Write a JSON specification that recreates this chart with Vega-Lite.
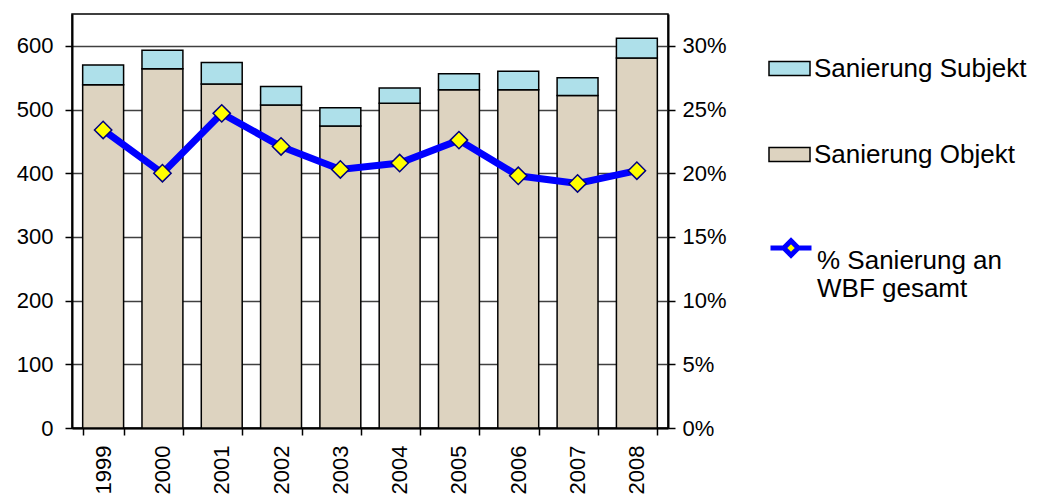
{
  "$schema": "https://vega.github.io/schema/vega-lite/v6.json",
  "autosize": {"type": "none"},
  "width": 596,
  "height": 414,
  "padding": {"left": 72, "top": 14, "right": 382, "bottom": 75},
  "background": "white",
  "config": {
    "font": "Liberation Sans",
    "view": {"stroke": "black", "strokeWidth": 1.5},
    "axis": {"labelFont": "Liberation Sans", "labelFontSize": 22, "labelColor": "black", "domainColor": "black", "tickColor": "black", "domainWidth": 2, "tickWidth": 1.5, "tickSize": 7}
  },
  "data": {"values": [
    {"year": "1999", "objekt": 539, "subjekt": 31, "pct": 0.234},
    {"year": "2000", "objekt": 564, "subjekt": 29, "pct": 0.200},
    {"year": "2001", "objekt": 540, "subjekt": 34, "pct": 0.247},
    {"year": "2002", "objekt": 507, "subjekt": 29, "pct": 0.221},
    {"year": "2003", "objekt": 474, "subjekt": 29, "pct": 0.203},
    {"year": "2004", "objekt": 510, "subjekt": 24, "pct": 0.208},
    {"year": "2005", "objekt": 531, "subjekt": 25, "pct": 0.226},
    {"year": "2006", "objekt": 531, "subjekt": 29, "pct": 0.198},
    {"year": "2007", "objekt": 522, "subjekt": 28, "pct": 0.192},
    {"year": "2008", "objekt": 581, "subjekt": 31, "pct": 0.202}
  ]},
  "encoding": {
    "x": {"field": "year", "type": "nominal", "title": null,
      "scale": {"paddingInner": 0.31, "paddingOuter": 0.18},
      "axis": {"labelAngle": -90, "tickBand": "extent", "labelPadding": 10, "domainWidth": 2, "labelBaseline": "middle"}}
  },
  "layer": [
    {
      "transform": [{"fold": ["objekt", "subjekt"], "as": ["key", "value"]}],
      "mark": {"type": "bar", "stroke": "black", "strokeWidth": 1.5},
      "encoding": {
        "y": {"field": "value", "type": "quantitative", "stack": "zero", "title": null,
          "scale": {"domain": [0, 650], "nice": false},
          "axis": {"values": [0, 100, 200, 300, 400, 500, 600], "grid": true, "gridColor": "#404040", "gridWidth": 1.5, "gridOpacity": 1, "labelPadding": 12}},
        "color": {"field": "key", "type": "nominal",
          "scale": {"domain": ["subjekt", "objekt"], "range": ["#aee0ea", "#ddd3c0"]},
          "legend": {"orient": "none", "legendX": 696, "legendY": 33, "title": null,
            "labelExpr": "datum.label == 'subjekt' ? 'Sanierung Subjekt' : 'Sanierung Objekt'",
            "symbolType": "M-1,-0.34H1V0.34H-1Z", "symbolSize": 1681, "symbolStrokeColor": "black", "symbolStrokeWidth": 1.5,
            "labelFontSize": 26, "labelFont": "Liberation Sans", "labelColor": "black", "labelOffset": 3, "labelLimit": 400, "rowPadding": 51}},
        "order": {"field": "key", "sort": "ascending"}
      }
    },
    {
      "encoding": {
        "y": {"field": "pct", "type": "quantitative", "title": null,
          "scale": {"domain": [0, 0.325], "nice": false},
          "axis": {"orient": "right", "format": "%", "values": [0, 0.05, 0.1, 0.15, 0.2, 0.25, 0.3], "grid": false, "labelPadding": 7}}
      },
      "layer": [
        {
          "mark": {"type": "line", "strokeWidth": 7},
          "encoding": {
            "stroke": {"datum": "% Sanierung an WBF gesamt", "type": "nominal",
              "scale": {"range": ["#0000ff"]},
              "legend": {"orient": "none", "legendX": 696, "legendY": 211, "title": null,
                "labelExpr": "['% Sanierung an', 'WBF gesamt']",
                "symbolType": "M-1,0H-0.35M0.35,0H1M0,-0.35L0.35,0L0,0.35L-0.35,0Z", "symbolSize": 1681, "symbolStrokeWidth": 5, "symbolFillColor": "#ffff00",
                "labelFontSize": 26, "labelFont": "Liberation Sans", "labelColor": "black", "labelOffset": 3, "labelLimit": 400, "labelBaseline": "top"}}
          }
        },
        {
          "mark": {"type": "point", "shape": "diamond", "filled": true, "fill": "#ffff00", "stroke": "#000080", "strokeWidth": 1.5, "size": 300, "opacity": 1}
        }
      ]
    }
  ],
  "resolve": {"scale": {"y": "independent"}}
}
